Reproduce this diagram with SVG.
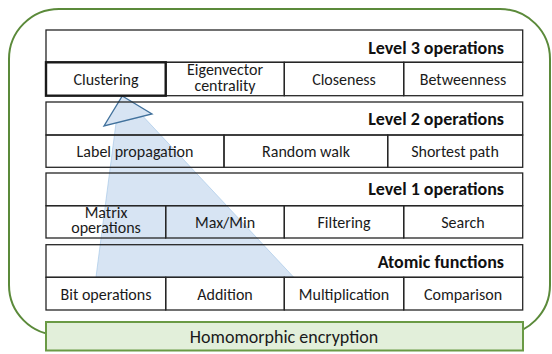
<svg xmlns="http://www.w3.org/2000/svg" width="552" height="354" viewBox="0 0 552 354">
  <style>
    .cell { fill: none; stroke: #262626; stroke-width: 1.3; }
    .sel { fill: none; stroke: #1a1a1a; stroke-width: 2.4; }
    .t { font-family: "Carlito", "Lato", "Liberation Sans", sans-serif; font-size: 16px; fill: #1a1a1a; text-anchor: middle; }
    .h { font-family: "Carlito", "Lato", "Liberation Sans", sans-serif; font-size: 18px; font-weight: bold; fill: #111; text-anchor: end; }
    .big { font-size: 18px; }
    .frame { fill: none; stroke: #5b8a3a; stroke-width: 2; }
    .base { fill: #e2efda; stroke: #6a9a45; stroke-width: 2; }
    .shaft { fill: #c9dbef; fill-opacity: 0.75; stroke: #9dc3e6; stroke-width: 0.6; }
    .head { fill: #c9dbef; fill-opacity: 0.75; stroke: #41719c; stroke-width: 1.3; stroke-linejoin: miter; }
  </style>

  <rect width="552" height="354" fill="#ffffff"/>

  <!-- rounded enclosure -->
  <rect class="frame" x="9" y="9" width="541" height="326" rx="50" ry="50"/>

  <!-- upward arrow from atomic functions to clustering -->
  <g id="connectors">
    <polygon class="shaft" points="116,123 143,116.3 293.5,277 96,277"/>
    <polygon class="head" points="122.3,96 152,114 104,126"/>
  </g>

  <g id="level3">
    <rect class="cell" x="46" y="30" width="476.7" height="32.3"/>
    <text class="h" x="504" y="53.5">Level 3 operations</text>
    <rect class="cell" x="165.7" y="62.3" width="118.6" height="33.4"/>
    <rect class="cell" x="284.3" y="62.3" width="119.4" height="33.4"/>
    <rect class="cell" x="403.7" y="62.3" width="119" height="33.4"/>
    <rect class="sel" x="46" y="62.3" width="119.7" height="33.4"/>
    <text class="t" x="106" y="84.5">Clustering</text>
    <text class="t" x="225" y="75.3">Eigenvector</text>
    <text class="t" x="225" y="91">centrality</text>
    <text class="t" x="344" y="84.5">Closeness</text>
    <text class="t" x="463" y="84.5">Betweenness</text>
  </g>

  <g id="level2">
    <rect class="cell" x="46" y="102" width="476.7" height="33"/>
    <text class="h" x="504" y="124.5">Level 2 operations</text>
    <rect class="cell" x="46" y="135" width="178" height="32.3"/>
    <rect class="cell" x="224" y="135" width="163.7" height="32.3"/>
    <rect class="cell" x="387.7" y="135" width="135" height="32.3"/>
    <text class="t" x="135" y="157">Label propagation</text>
    <text class="t" x="306" y="157">Random walk</text>
    <text class="t" x="455" y="157">Shortest path</text>
  </g>

  <g id="level1">
    <rect class="cell" x="46" y="173" width="476.7" height="32.7"/>
    <text class="h" x="504" y="195">Level 1 operations</text>
    <rect class="cell" x="46" y="205.7" width="119.7" height="32.3"/>
    <rect class="cell" x="165.7" y="205.7" width="118.6" height="32.3"/>
    <rect class="cell" x="284.3" y="205.7" width="119.4" height="32.3"/>
    <rect class="cell" x="403.7" y="205.7" width="119" height="32.3"/>
    <text class="t" x="106" y="217.5">Matrix</text>
    <text class="t" x="106" y="233">operations</text>
    <text class="t" x="225" y="227.5">Max/Min</text>
    <text class="t" x="344" y="227.5">Filtering</text>
    <text class="t" x="463" y="227.5">Search</text>
  </g>

  <g id="atomic">
    <rect class="cell" x="46" y="244.7" width="476.7" height="32.6"/>
    <text class="h" x="504" y="267.5">Atomic functions</text>
    <rect class="cell" x="46" y="277.3" width="119.7" height="32.7"/>
    <rect class="cell" x="165.7" y="277.3" width="118.6" height="32.7"/>
    <rect class="cell" x="284.3" y="277.3" width="119.4" height="32.7"/>
    <rect class="cell" x="403.7" y="277.3" width="119" height="32.7"/>
    <text class="t" x="106" y="299.5">Bit operations</text>
    <text class="t" x="225" y="299.5">Addition</text>
    <text class="t" x="344" y="299.5">Multiplication</text>
    <text class="t" x="463" y="299.5">Comparison</text>
  </g>

  <g id="homomorphic">
    <rect class="base" x="46" y="322" width="477" height="28.5"/>
    <text class="t big" x="284" y="343">Homomorphic encryption</text>
  </g>
</svg>
